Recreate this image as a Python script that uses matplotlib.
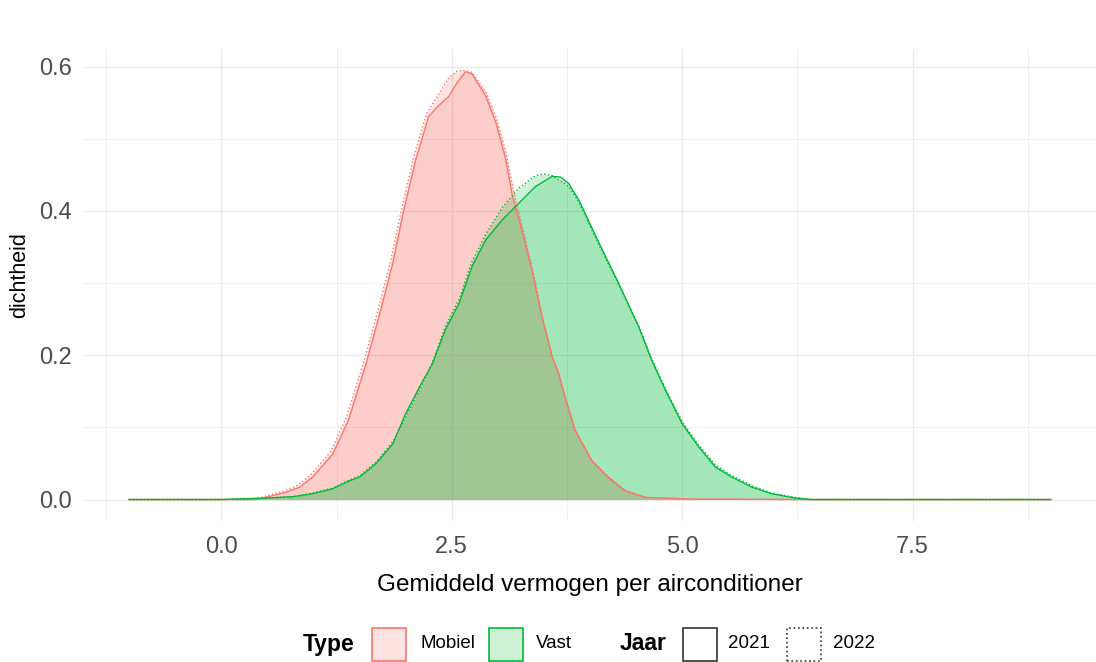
import matplotlib
matplotlib.use('Agg')
import matplotlib.pyplot as plt
from matplotlib.patches import Rectangle

plt.rcParams['font.family'] = ['Liberation Sans', 'DejaVu Sans']

# density curves
mobiel_2021_x = [-1.0, 0.0, 0.38, 0.48, 0.70, 0.85, 0.99, 1.21, 1.38, 1.57, 1.71, 1.86, 1.98, 2.11,
                 2.25, 2.35, 2.47, 2.56, 2.65, 2.72, 2.87, 2.98, 3.08, 3.16, 3.26, 3.37, 3.48, 3.59,
                 3.66, 3.73, 3.84, 4.02, 4.20, 4.38, 4.60, 5.10, 6.40, 9.0]
mobiel_2021_y = [0.0, 0.0, 0.0, 0.003, 0.010, 0.017, 0.031, 0.063, 0.110, 0.188, 0.253, 0.327, 0.401, 0.471,
                 0.531, 0.545, 0.559, 0.578, 0.593, 0.590, 0.559, 0.522, 0.475, 0.420, 0.374, 0.318, 0.253, 0.198,
                 0.175, 0.142, 0.096, 0.054, 0.031, 0.0125, 0.003, 0.0005, 0.0, 0.0]

mobiel_2022_x = [-1.0, 0.0, 0.36, 0.46, 0.68, 0.83, 0.97, 1.19, 1.36, 1.55, 1.69, 1.84, 1.96, 2.09,
                 2.23, 2.35, 2.47, 2.56, 2.62, 2.72, 2.87, 2.98, 3.08, 3.17, 3.27, 3.38, 3.48, 3.59,
                 3.66, 3.73, 3.84, 4.02, 4.20, 4.38, 4.60, 5.10, 6.40, 9.0]
mobiel_2022_y = [0.0, 0.0, 0.0, 0.004, 0.012, 0.020, 0.034, 0.067, 0.115, 0.193, 0.258, 0.332, 0.405, 0.476,
                 0.536, 0.560, 0.585, 0.594, 0.595, 0.592, 0.565, 0.530, 0.485, 0.428, 0.376, 0.318, 0.255, 0.198,
                 0.172, 0.140, 0.094, 0.052, 0.029, 0.011, 0.003, 0.0008, 0.0, 0.0]

vast_2021_x = [-1.0, 0.0, 0.48, 0.78, 0.99, 1.21, 1.39, 1.50, 1.68, 1.86, 2.00, 2.15, 2.29, 2.43,
               2.58, 2.72, 2.87, 3.05, 3.23, 3.41, 3.59, 3.68, 3.77, 3.88, 4.10, 4.31, 4.53, 4.67,
               4.82, 5.00, 5.18, 5.36, 5.54, 5.76, 5.97, 6.23, 6.40, 9.0]
vast_2021_y = [0.0, 0.0, 0.002, 0.004, 0.008, 0.015, 0.026, 0.031, 0.050, 0.077, 0.119, 0.156, 0.188, 0.235,
               0.272, 0.323, 0.360, 0.388, 0.411, 0.434, 0.448, 0.447, 0.438, 0.415, 0.355, 0.300, 0.239, 0.193,
               0.151, 0.105, 0.073, 0.045, 0.031, 0.017, 0.008, 0.002, 0.0, 0.0]

vast_2022_x = [-1.0, 0.0, 0.48, 0.78, 0.99, 1.21, 1.39, 1.50, 1.68, 1.86, 2.00, 2.15, 2.29, 2.43,
               2.58, 2.72, 2.87, 3.05, 3.23, 3.41, 3.50, 3.59, 3.77, 3.88, 4.10, 4.31, 4.53, 4.67,
               4.82, 5.00, 5.18, 5.36, 5.54, 5.76, 5.97, 6.23, 6.40, 9.0]
vast_2022_y = [0.0, 0.0, 0.002, 0.004, 0.009, 0.016, 0.027, 0.033, 0.052, 0.080, 0.114, 0.152, 0.190, 0.240,
               0.278, 0.330, 0.368, 0.405, 0.432, 0.449, 0.451, 0.449, 0.434, 0.412, 0.352, 0.298, 0.240, 0.195,
               0.153, 0.108, 0.075, 0.048, 0.033, 0.019, 0.009, 0.003, 0.0, 0.0]

series = [
    (mobiel_2021_x, mobiel_2021_y, '#F8766D', '-'),
    (mobiel_2022_x, mobiel_2022_y, '#F8766D', ':'),
    (vast_2021_x, vast_2021_y, '#00BA38', '-'),
    (vast_2022_x, vast_2022_y, '#00BA38', ':'),
]

x_ticks = [0.0, 2.5, 5.0, 7.5]
x_minor = [-1.25, 1.25, 3.75, 6.25, 8.75]
y_ticks = [0.0, 0.2, 0.4, 0.6]
y_minor = [0.1, 0.3, 0.5]

W, H = 1096, 662
fig = plt.figure(figsize=(W / 100, H / 100), dpi=100)
ax = fig.add_axes([83 / W, (H - 521) / H, 1.0 - 83 / W + 1 / W, (521 - 49) / H])

for xs, ys, col, ls in series:
    ax.fill_between(xs, ys, 0, color=col, alpha=0.2, lw=0)
for xs, ys, col, ls in series:
    ax.plot(xs, ys, color=col, lw=1.0, ls=ls)

ax.set_xlim(-1.5, 9.5)
ax.set_ylim(-0.02975, 0.6245)
ax.set_xticks(x_ticks)
ax.set_xticklabels(['%.1f' % v for v in x_ticks])
ax.set_xticks(x_minor, minor=True)
ax.set_yticks(y_ticks)
ax.set_yticklabels(['%.1f' % v for v in y_ticks])
ax.set_yticks(y_minor, minor=True)
ax.grid(which='major', color='#EBEBEB', lw=1.0)
ax.grid(which='minor', color='#EBEBEB', lw=0.6)
ax.set_axisbelow(True)
for s in ax.spines.values():
    s.set_visible(False)
ax.tick_params(which='both', length=0, labelsize=17, labelcolor='#4D4D4D')
ax.tick_params(axis='x', pad=11)
ax.tick_params(axis='y', pad=8)

fig.text(590 / W, 1 - 585 / H, 'Gemiddeld vermogen per airconditioner', ha='center', va='center', fontsize=17.5)
fig.text(20 / W, 1 - 275 / H, 'dichtheid', ha='center', va='center', rotation=90, fontsize=15.5)

# legend, drawn by hand like ggplot's bottom legend
def fx(px):
    return px / W

def fy(py):
    return 1 - py / H

yc = 644
bw, bh = 34, 33
fig.text(fx(303), fy(yc), 'Type', fontsize=16.5, fontweight='bold', va='center', ha='left')
fig.text(fx(620), fy(yc), 'Jaar', fontsize=16.5, fontweight='bold', va='center', ha='left')
keys = [
    (372, '#F8766D', (248/255, 118/255, 109/255, 0.2), '-', 'Mobiel', 420),
    (489, '#00BA38', (0, 186/255, 56/255, 0.2), '-', 'Vast', 536),
    (683, '#333333', 'none', '-', '2021', 728),
    (787, '#333333', 'none', ':', '2022', 833),
]
for left, ec, fc, ls, lab, tx in keys:
    r = Rectangle((fx(left), fy(yc + bh / 2)), bw / W, bh / H, transform=fig.transFigure,
                  facecolor=fc, edgecolor=ec, lw=1.2, ls=ls)
    fig.add_artist(r)
    fig.text(fx(tx), fy(yc), lab, fontsize=13.5, va='center', ha='left')

fig.savefig('out.png', dpi=100)
